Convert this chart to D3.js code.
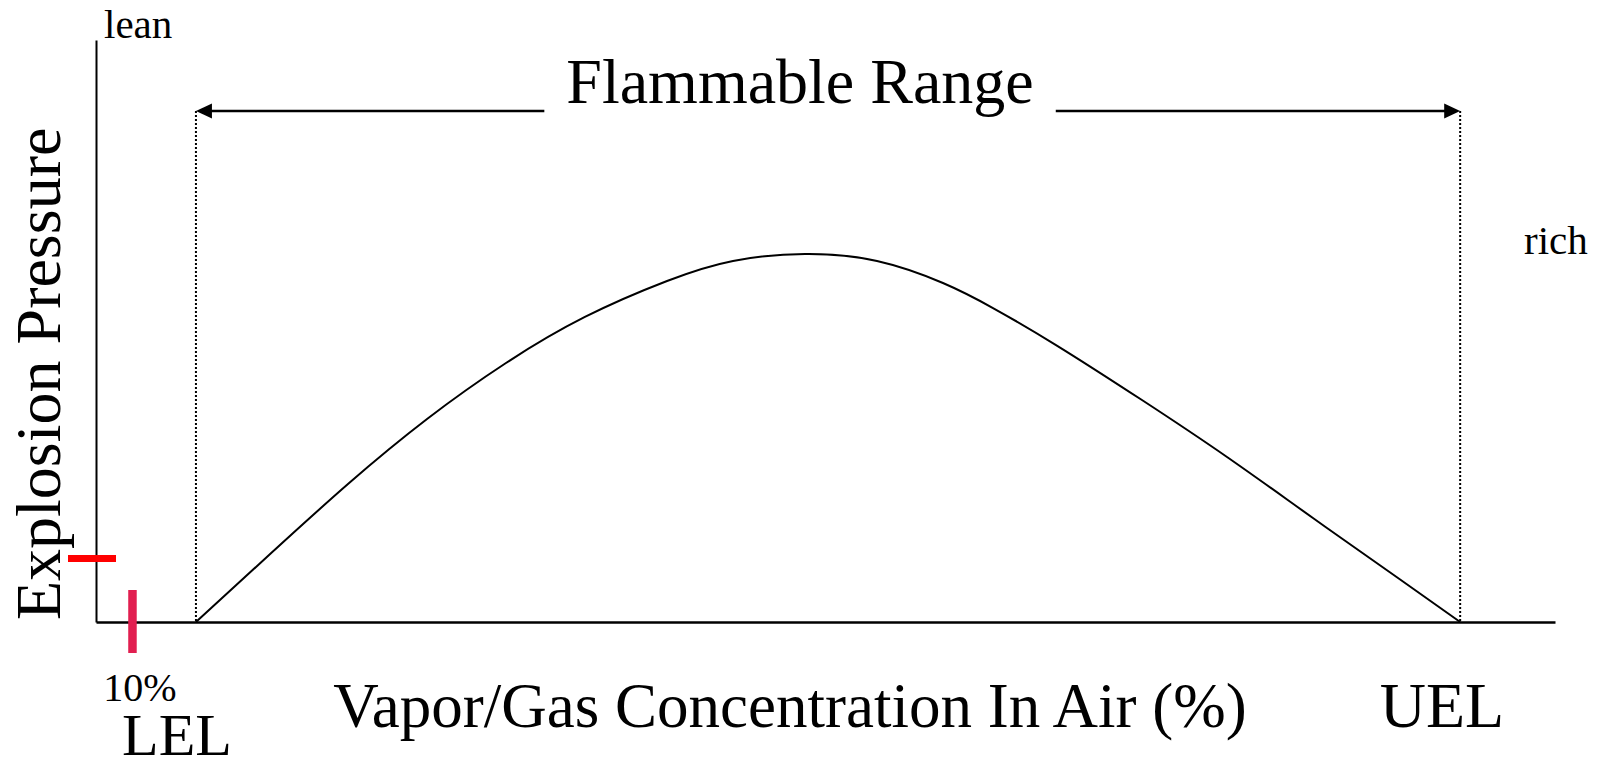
<!DOCTYPE html>
<html>
<head>
<meta charset="utf-8">
<script src="https://cdn.jsdelivr.net/npm/d3@7/dist/d3.min.js"></script>
<style>
  html, body { margin: 0; padding: 0; background: #fff; }
  svg { display: block; }
  text { font-family: "Liberation Serif", "Times New Roman", serif; fill: #000; }
</style>
</head>
<body>
<svg id="chart" width="1606" height="758"></svg>
<script>
// ---- data (arbitrary units: concentration 0-100 along axis, pressure 0-100) ----
const concentration = [6.85, 11.86, 17.27, 22.69, 28.10, 33.51, 39.14, 43.66, 48.60, 53.53, 58.05, 61.48, 65.80, 71.69, 77.52, 83.41, 89.24, 93.5];
const pressure      = [0,    11.51, 23.71, 34.88, 44.50, 52.41, 58.59, 62.03, 63.23, 62.03, 58.25, 53.95, 47.59, 38.14, 28.35, 17.87, 7.56,  0];
const limits = [6.85, 93.5];           // LEL, UEL
const rangeLevel = [87.8];             // height of the "Flammable Range" arrow
const markerTenPct = [2.5];            // 10% LEL mark on concentration axis
const markerPressure = [10.9];         // pressure mark on y axis
const labels = {
  title: "Flammable Range",
  yTitle: "Explosion Pressure",
  xTitle: "Vapor/Gas Concentration In Air (%)",
  lean: "lean", rich: "rich", lel: "LEL", uel: "UEL", ten: "10%"
};

const svg = d3.select("#chart");
const x = d3.scaleLinear().domain([0, 100]).range([96, 1555]);
const y = d3.scaleLinear().domain([0, 100]).range([622, 40]);

// axes
const gx = svg.append("g").attr("transform", `translate(0,${y(0)})`)
  .call(d3.axisBottom(x).tickValues([]).tickSizeOuter(0));
gx.select(".domain").attr("stroke", "#000").attr("stroke-width", 2.6);
const gy = svg.append("g").attr("transform", `translate(${x(0)},0)`)
  .call(d3.axisLeft(y).tickValues([]).tickSizeOuter(0));
gy.select(".domain").attr("stroke", "#000").attr("stroke-width", 2);

// dotted limit lines
svg.selectAll("line.limit").data(limits).join("line")
  .attr("class", "limit")
  .attr("x1", d => x(d)).attr("x2", d => x(d))
  .attr("y1", y(rangeLevel[0])).attr("y2", y(0))
  .attr("stroke", "#000").attr("stroke-width", 2)
  .attr("stroke-dasharray", "2,2");

// curve
const pts = concentration.map((c, i) => [c, pressure[i]]);
svg.append("path").datum(pts)
  .attr("fill", "none").attr("stroke", "#000").attr("stroke-width", 2)
  .attr("d", d3.line().x(d => x(d[0])).y(d => y(d[1])).curve(d3.curveNatural));

// Flammable Range title + arrows
const ay = y(rangeLevel[0]);
const title = svg.append("text")
  .attr("x", (x(limits[0]) + x(limits[1])) / 2 - 28)
  .attr("y", ay - 8)
  .attr("text-anchor", "middle")
  .attr("font-size", 64)
  .text(labels.title);
const bb = title.node().getBBox();
const gap = 22, head = 16, hw = 7.5;
svg.append("line").attr("x1", x(limits[0]) + head - 2).attr("x2", bb.x - gap)
  .attr("y1", ay).attr("y2", ay).attr("stroke", "#000").attr("stroke-width", 2.6);
svg.append("line").attr("x1", bb.x + bb.width + gap).attr("x2", x(limits[1]) - head + 2)
  .attr("y1", ay).attr("y2", ay).attr("stroke", "#000").attr("stroke-width", 2.6);
svg.append("path")
  .attr("d", `M${x(limits[0])},${ay} L${x(limits[0]) + head},${ay - hw} L${x(limits[0]) + head},${ay + hw} Z`)
  .attr("fill", "#000");
svg.append("path")
  .attr("d", `M${x(limits[1])},${ay} L${x(limits[1]) - head},${ay - hw} L${x(limits[1]) - head},${ay + hw} Z`)
  .attr("fill", "#000");

// red markers
svg.append("line")
  .attr("x1", x(0) - 28).attr("x2", x(0) + 20)
  .attr("y1", y(markerPressure[0])).attr("y2", y(markerPressure[0]))
  .attr("stroke", "#ff0000").attr("stroke-width", 7);
svg.append("line")
  .attr("x1", x(markerTenPct[0])).attr("x2", x(markerTenPct[0]))
  .attr("y1", y(0) - 32).attr("y2", y(0) + 31)
  .attr("stroke", "#e11f50").attr("stroke-width", 8.5);

// labels
svg.append("text").attr("x", 104).attr("y", 38).attr("font-size", 41).text(labels.lean);
svg.append("text").attr("x", 1524).attr("y", 254).attr("font-size", 41).text(labels.rich);
svg.append("text").attr("transform", "translate(60,620) rotate(-90)")
  .attr("font-size", 64).text(labels.yTitle);
svg.append("text").attr("x", 140).attr("y", 701).attr("text-anchor", "middle")
  .attr("font-size", 40).text(labels.ten);
svg.append("text").attr("x", 177).attr("y", 755).attr("text-anchor", "middle")
  .attr("font-size", 60).text(labels.lel);
svg.append("text").attr("x", 790).attr("y", 727).attr("text-anchor", "middle")
  .attr("font-size", 63).text(labels.xTitle);
svg.append("text").attr("x", 1442).attr("y", 727).attr("text-anchor", "middle")
  .attr("font-size", 64).text(labels.uel);
</script>
</body>
</html>
